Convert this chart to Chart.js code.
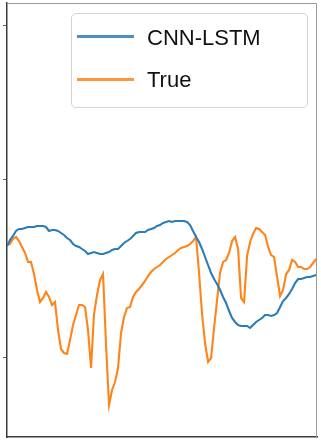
<!DOCTYPE html>
<html>
<head>
<meta charset="utf-8">
<script src="https://cdn.jsdelivr.net/npm/chart.js@4"></script>
<style>
  html, body { margin: 0; padding: 0; background: #fff; }
  #wrap { position: relative; width: 321px; height: 445px; }
  #legend {
    position: absolute; left: 71px; top: 13px; width: 237px; height: 95px;
    box-sizing: border-box; border: 1px solid #d4d4d4; border-radius: 5px;
    background: rgba(255,255,255,0.85);
    font-family: "Liberation Sans", Arial, sans-serif; font-size: 22px; color: #111;
  }
  #legend .sw { position: absolute; left: 5px; width: 57px; height: 3px; }
  #legend .lb { position: absolute; left: 75px; line-height: 22px; white-space: nowrap; }
</style>
</head>
<body>
<div id="wrap">
  <canvas id="grafico" width="321" height="445"></canvas>
  <div id="legend"></div>
</div>
<script>
// series (arbitrary units, labels cropped away)
const seriesNames = ["CNN-LSTM", "True"];
const seriesColors = ["#2a7dba", "#ff8419"];

const cnnLstm = [
  19.1, 19.7, 20.1, 20.6, 20.8, 20.8, 20.9, 21.0, 21.0, 21.0,
  21.1, 21.1, 21.1, 21.0, 20.6, 20.7, 20.7, 20.6, 20.4, 20.2,
  19.9, 19.7, 19.3, 19.1, 19.0, 18.8, 18.6, 18.3, 18.4, 18.5,
  18.4, 18.3, 18.3, 18.4, 18.5, 18.7, 18.8, 18.8, 19.1, 19.4,
  19.6, 19.8, 20.1, 20.4, 20.5, 20.5, 20.5, 20.7, 20.8, 20.9,
  21.1, 21.2, 21.4, 21.5, 21.6, 21.5, 21.6, 21.6, 21.6, 21.6,
  21.5, 21.2, 20.6, 20.0, 19.5, 18.8, 18.0, 17.2, 16.4, 15.8,
  15.3, 14.7, 14.0, 13.4, 12.6, 11.9, 11.5, 11.2, 11.1, 11.1,
  11.1, 10.9, 11.2, 11.5, 11.7, 11.9, 12.2, 12.2, 12.1, 12.2,
  12.4, 13.0, 13.6, 13.9, 14.3, 14.8, 15.4, 15.8, 15.8, 15.9,
  16.0, 16.0, 16.1, 16.2
];

const trueVals = [
  19.2, 19.3, 19.8, 20.0, 19.6, 19.0, 18.4, 17.5, 17.5, 16.3,
  14.7, 13.5, 13.9, 14.5, 14.0, 13.2, 13.5, 10.7, 8.8, 8.4,
  8.3, 9.7, 11.2, 12.2, 13.2, 13.2, 13.0, 10.7, 6.9, 12.3,
  14.2, 15.7, 16.3, 9.2, 3.2, 4.7, 5.5, 6.9, 10.4, 12.0,
  12.9, 13.0, 14.0, 14.5, 14.8, 15.2, 15.6, 16.1, 16.5, 16.8,
  17.0, 17.2, 17.5, 17.8, 18.0, 18.2, 18.4, 18.7, 18.9, 19.0,
  19.1, 19.3, 19.6, 20.0, 16.4, 12.3, 9.4, 7.5, 7.9, 10.9,
  13.7, 16.4, 17.5, 17.7, 18.4, 19.6, 20.0, 18.8, 13.9, 13.5,
  18.1, 19.5, 20.3, 20.9, 20.8, 20.5, 20.2, 19.0, 18.2, 18.0,
  16.0, 14.1, 14.7, 16.3, 16.7, 17.7, 17.5, 17.0, 17.0, 16.8,
  16.8, 17.0, 17.4, 17.8
];

const steps = trueVals.map((_, i) => i);
const yTicks = [8.0, 25.7, 41.15];

// top and right spines, lighter than the axis lines
const frame = {
  id: "frame",
  afterDraw(chart) {
    const a = chart.chartArea, ctx = chart.ctx;
    ctx.save();
    ctx.strokeStyle = "#9a9a9a";
    ctx.lineWidth = 1;
    ctx.beginPath();
    ctx.moveTo(a.left, a.top + 0.5);
    ctx.lineTo(a.right - 0.5, a.top + 0.5);
    ctx.lineTo(a.right - 0.5, a.bottom);
    ctx.stroke();
    ctx.restore();
  }
};

const chart = new Chart(document.getElementById("grafico"), {
  type: "line",
  data: {
    labels: steps,
    datasets: [
      { label: seriesNames[0], data: cnnLstm, borderColor: seriesColors[0], borderWidth: 2.1 },
      { label: seriesNames[1], data: trueVals, borderColor: seriesColors[1], borderWidth: 2.1 }
    ]
  },
  options: {
    responsive: false,
    animation: false,
    layout: { padding: { left: 3, top: 3, right: 4, bottom: 8 } },
    elements: { point: { radius: 0 }, line: { tension: 0 } },
    plugins: { legend: { display: false }, tooltip: { enabled: false } },
    scales: {
      x: {
        type: "linear",
        min: 0,
        max: 103.3,
        grid: { display: false, drawTicks: false },
        ticks: { display: false },
        border: { color: "#3c3c3c", width: 1.5 }
      },
      y: {
        min: 0,
        max: 43.4,
        afterBuildTicks: s => { s.ticks = yTicks.map(v => ({ value: v })); },
        grid: { drawOnChartArea: false, drawTicks: true, tickLength: 4, color: "#666" },
        ticks: { display: false },
        border: { color: "#3c3c3c", width: 1.5 }
      }
    }
  },
  plugins: [frame]
});

// legend box drawn as html
const legend = document.getElementById("legend");
const rowTops = [[21, 12.5], [64, 55]];
chart.data.datasets.forEach((ds, i) => {
  const sw = document.createElement("div");
  sw.className = "sw";
  sw.style.top = rowTops[i][0] + "px";
  sw.style.background = ds.borderColor;
  sw.style.opacity = 0.85;
  legend.appendChild(sw);
  const lb = document.createElement("div");
  lb.className = "lb";
  lb.style.top = rowTops[i][1] + "px";
  lb.textContent = ds.label;
  legend.appendChild(lb);
});
</script>
</body>
</html>
